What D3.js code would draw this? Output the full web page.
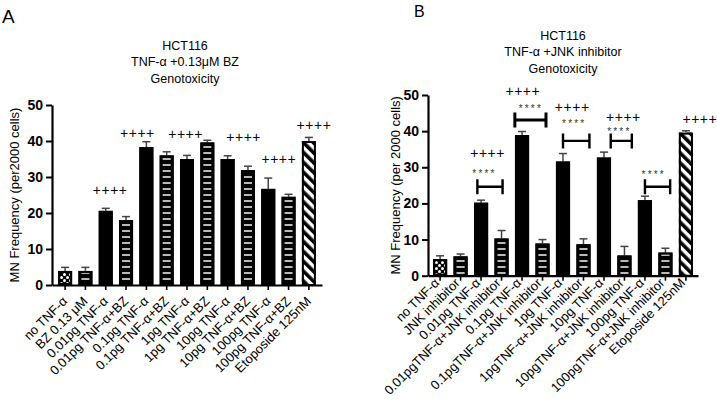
<!DOCTYPE html>
<html><head><meta charset="utf-8">
<script src="https://cdn.jsdelivr.net/npm/d3@7"></script>
<style>body{margin:0;background:#fff}svg{display:block}text{font-family:"Liberation Sans",Arial,sans-serif}</style>
</head><body><svg id="c" width="717" height="413"></svg>
<script>
// ---------- DATA ----------
const leftCategories = ["no TNF-α","BZ 0.13 μM","0.01pg TNF-α","0.01pg TNF-α+BZ","0.1pg TNF-α","0.1pg TNF-α+BZ","1pg TNF-α","1pg TNF-α+BZ","10pg TNF-α","10pg TNF-α+BZ","100pg TNF-α","100pg TNF-α+BZ","Etoposide 125nM"];
const leftMeans  = [3.9,3.9,20.6,18.0,38.3,36.0,35.0,39.6,35.0,31.9,26.7,24.5,40.0];
const leftErrors = [1.0,1.0,0.7,1.0,1.5,1.0,1.0,0.6,0.9,1.1,3.0,0.7,1.0];
const leftPlusText = ["++++","++++","++++","++++","++++","++++"];
const leftPlusAt   = [2.22,3.56,5.93,8.79,10.52,12.25];
const leftPlusY    = [26.4,42.3,41.9,41.2,34.9,44.4];

const rightCategories = ["no TNF-α","JNK inhibitor","0.01pg TNF-α","0.01pgTNF-α+JNK inhibitor","0.1pg TNF-α","0.1pgTNF-α+JNK inhibitor","1pg TNF-α","1pgTNF-α+JNK inhibitor","10pg TNF-α","10pgTNF-α+JNK inhibitor","100pg TNF-α","100pgTNF-α+JNK inhibitor","Etoposide 125nM"];
const rightMeans  = [4.6,5.35,20.2,10.3,38.9,8.9,31.6,8.7,32.7,5.6,20.9,6.4,39.6];
const rightErrors = [0.9,0.65,0.7,2.2,1.0,1.1,2.2,1.5,1.5,2.5,1.1,1.2,0.5];
const rightPlusText = ["++++","++++","++++","++++","++++"];
const rightPlusAt   = [2.32,4.04,6.45,8.95,12.68];
const rightPlusY    = [34.0,51.0,46.8,43.9,43.5];
const rightStarText = ["****","****","****","****","****"];
const rightStarAt   = [2.17,4.43,6.55,8.75,10.43];
const rightStarY    = [28.8,46.6,42.6,40.3,28.5];
const bracketFrom = [1.82,3.65,6.0,8.33,10.0];
const bracketTo   = [3.05,5.17,7.29,9.36,11.23];
const bracketY    = [24.6,43.1,37.3,37.3,24.6];

const yTicks = [0,10,20,30,40,50];
const titlesLeft  = ["HCT116","TNF-α +0.13μM BZ","Genotoxicity"];
const titlesRight = ["HCT116","TNF-α +JNK inhibitor","Genotoxicity"];
const yLabelLeft  = "MN Frequency (per2000 cells)";
const yLabelRight = "MN Frequency (per 2000 cells)";

// ---------- DRAW ----------
const svg = d3.select("#c");
svg.append("rect").attr("width",717).attr("height",413).attr("fill","#fff");
const defs = svg.append("defs");
const ps = defs.append("pattern").attr("id","hstripe").attr("patternUnits","userSpaceOnUse").attr("width",10).attr("height",6);
ps.append("rect").attr("x",0).attr("y",2.2).attr("width",10).attr("height",1.6).attr("fill","#e6e6e6");
const pdot = defs.append("pattern").attr("id","dots").attr("patternUnits","userSpaceOnUse").attr("width",6).attr("height",6);
pdot.append("circle").attr("cx",1.5).attr("cy",1.5).attr("r",1.5).attr("fill","#fff");
pdot.append("circle").attr("cx",4.5).attr("cy",4.5).attr("r",1.5).attr("fill","#fff");
const pd = defs.append("pattern").attr("id","diag").attr("patternUnits","userSpaceOnUse").attr("width",7).attr("height",7).attr("patternTransform","rotate(-45)");
pd.append("rect").attr("width",7).attr("height",7).attr("fill","#fff");
pd.append("rect").attr("width",3.6).attr("height",7).attr("fill","#000");

function kind(name){
  if(name.startsWith("no TNF")) return "dots";
  if(name.startsWith("Etoposide")) return "diag";
  if(name.includes("BZ")||name.includes("JNK")) return "stripe";
  return "solid";
}

function panel(o){
  const g = svg.append("g");
  const x = d3.scaleBand().domain(o.cats).range([o.x0,o.x1]).paddingInner(0.31).paddingOuter(o.po);
  const y = d3.scaleLinear().domain([0,50]).range([o.y0,o.y1]);
  const cx = i => x(o.cats[0]) + x.bandwidth()/2 + i*x.step();
  const bw = x.bandwidth();
  o.cats.forEach((c,i)=>{
    const k = kind(c), bx = x(c), top = y(o.means[i]), h = o.y0 - top;
    const et = y(o.means[i]+o.errs[i]);
    g.append("line").attr("x1",bx+bw/2).attr("x2",bx+bw/2).attr("y1",top).attr("y2",et).attr("stroke","#444").attr("stroke-width",1.5);
    g.append("line").attr("x1",bx+bw/2-4).attr("x2",bx+bw/2+4).attr("y1",et).attr("y2",et).attr("stroke","#444").attr("stroke-width",1.5);
    g.append("rect").attr("x",bx).attr("y",top).attr("width",bw).attr("height",h).attr("fill",k==="diag"?"#fff":"#000");
    if(k==="stripe") g.append("rect").attr("x",bx+3).attr("y",top+1).attr("width",bw-6).attr("height",Math.max(0,h-2)).attr("fill","url(#hstripe)");
    if(k==="dots") g.append("rect").attr("x",bx+2).attr("y",top+2).attr("width",bw-4).attr("height",Math.max(0,h-4)).attr("fill","url(#dots)");
    if(k==="diag") g.append("rect").attr("x",bx).attr("y",top).attr("width",bw).attr("height",h).attr("fill","url(#diag)");
    g.append("rect").attr("x",bx+1).attr("y",top+1).attr("width",bw-2).attr("height",h-1).attr("fill","none").attr("stroke","#000").attr("stroke-width",2);
  });
  const ya = g.append("g").attr("transform",`translate(${o.x0},0)`).call(d3.axisLeft(y).tickValues(yTicks).tickSize(6).tickSizeOuter(0).tickPadding(3));
  ya.select(".domain").attr("stroke-width",2.2);
  ya.selectAll(".tick line").attr("stroke-width",2);
  ya.selectAll("text").attr("font-size",14).attr("font-weight","bold").attr("fill","#000").style("font-family","'Liberation Sans',Arial,sans-serif");
  const xa = g.append("g").attr("transform",`translate(0,${o.y0})`).call(d3.axisBottom(x).tickSize(5).tickSizeOuter(0).tickFormat(""));
  xa.select(".domain").attr("stroke-width",2.2);
  xa.selectAll(".tick line").attr("stroke-width",1.6);
  o.cats.forEach((c,i)=>{
    g.append("text").attr("transform",`translate(${x(c)+bw/2+o.lx},${o.y0+o.ly}) rotate(-45)`)
      .attr("text-anchor","end").attr("font-size",o.lfs).text(c);
  });
  g.append("text").attr("transform",`translate(${o.ylx},${(o.y0+o.y1)/2}) rotate(-90)`).attr("text-anchor","middle").attr("dy","0.35em").attr("font-size",13).text(o.ylab);
  o.titles.forEach((t,i)=>g.append("text").attr("x",o.tx).attr("y",o.ty+i*16.5).attr("text-anchor","middle").attr("font-size",12.5).text(t));
  o.plusText.forEach((t,i)=>g.append("text").attr("x",cx(o.plusAt[i])).attr("y",y(o.plusY[i])).attr("dy","0.36em").attr("text-anchor","middle").attr("font-size",14).attr("letter-spacing","0.5px").attr("fill","#000").text(t));
  if(o.starText) o.starText.forEach((t,i)=>g.append("text").attr("x",cx(o.starAt[i])).attr("y",y(o.starY[i])).attr("dy","0.5em").attr("text-anchor","middle").attr("font-size",10).attr("letter-spacing","2.2px").attr("fill","#333").text(t));
  if(o.bFrom) o.bFrom.forEach((f,i)=>{
    const xa1=cx(f), xa2=cx(o.bTo[i]), yy=y(o.bY[i]);
    g.append("path").attr("d",`M${xa1},${yy-7.5}V${yy+7.5}M${xa1},${yy}H${xa2}M${xa2},${yy-7.5}V${yy+7.5}`).attr("stroke","#000").attr("stroke-width",i===1?3:2.4).attr("fill","none");
  });
  g.append("text").attr("x",o.pLx).attr("y",o.pLy).attr("font-size",o.pLfs).text(o.pL);
}

panel({cats:leftCategories,means:leftMeans,errs:leftErrors,x0:52,x1:322,po:0.3,y0:285,y1:105,
  lx:3,ly:17,lfs:13,ylx:14,ylab:yLabelLeft,titles:titlesLeft,tx:185,ty:49.5,
  plusText:leftPlusText,plusAt:leftPlusAt,plusY:leftPlusY,pL:"A",pLx:2,pLy:23,pLfs:19});
panel({cats:rightCategories,means:rightMeans,errs:rightErrors,x0:428,x1:698,po:0.245,y0:275.7,y1:95,
  lx:0,ly:8,lfs:13,ylx:395,ylab:yLabelRight,titles:titlesRight,tx:563,ty:39.5,
  plusText:rightPlusText,plusAt:rightPlusAt,plusY:rightPlusY,starText:rightStarText,starAt:rightStarAt,starY:rightStarY,
  bFrom:bracketFrom,bTo:bracketTo,bY:bracketY,pL:"B",pLx:414,pLy:17,pLfs:16});
</script></body></html>
